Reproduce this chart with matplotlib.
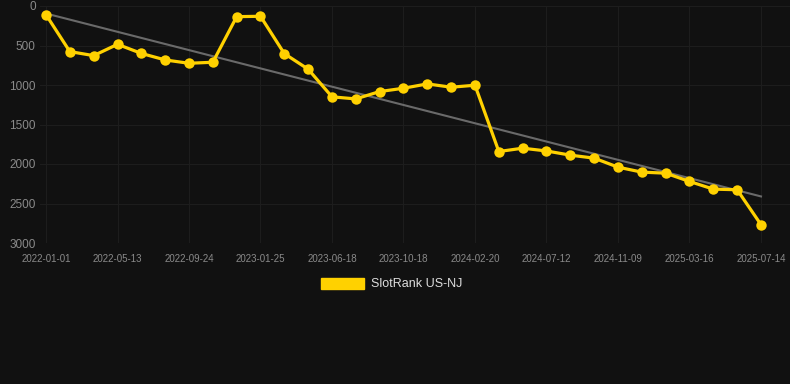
import numpy as np
import matplotlib
matplotlib.use('Agg')
import matplotlib.pyplot as plt
from matplotlib.patches import Patch

plt.rcParams['font.family'] = ['Liberation Sans', 'DejaVu Sans']

# Rank per snapshot (lower number = better)
rank = [110, 577, 628, 485, 600, 683, 725, 712, 135, 130,
        603, 800, 1150, 1176, 1083, 1041, 986, 1028, 1003, 1842,
        1800, 1835, 1888, 1926, 2040, 2103, 2116, 2221, 2318, 2326,
        2768]
tick_labels = ['2022-01-01', '2022-05-13', '2022-09-24', '2023-01-25',
               '2023-06-18', '2023-10-18', '2024-02-20', '2024-07-12',
               '2024-11-09', '2025-03-16', '2025-07-14']
series_name = 'SlotRank US-NJ'

bg = '#111111'
grid_c = '#1d1d1d'
text_c = '#8a8a8a'
yellow = '#FFD100'

x = np.arange(len(rank))
# linear trend over the series
k, b = np.polyfit(x, rank, 1)

fig = plt.figure(figsize=(7.9, 3.84), dpi=100, facecolor=bg)
W, H = 790, 384
left, right, top, bottom = 40, 790, 6, 243
ax = fig.add_axes([left / W, 1 - bottom / H, (right - left) / W, (bottom - top) / H])
ax.set_facecolor(bg)

ax.plot(x, k * x + b, color='#6a6a6a', lw=1.5, zorder=2)
ax.plot(x, rank, color=yellow, lw=2.3, marker='o', markersize=7.5,
        markeredgewidth=0, zorder=3, clip_on=False)

step = 23.83  # px per data point
ax.set_xlim(-(46 - left) / step, 30 + (right - 761) / step)
ax.set_ylim(3000, 0)
ax.set_yticks([0, 500, 1000, 1500, 2000, 2500, 3000])
ax.set_xticks(x[::3])
ax.set_xticklabels(tick_labels)

ax.grid(True, color=grid_c, lw=0.8)
ax.set_axisbelow(True)
for s in ax.spines.values():
    s.set_visible(False)
ax.tick_params(axis='y', length=0, pad=3, labelsize=8.5, labelcolor=text_c)
ax.tick_params(axis='x', length=0, pad=8, labelsize=7, labelcolor=text_c)

fig.legend(handles=[Patch(facecolor=yellow, edgecolor=yellow)], labels=[series_name],
           loc='center', bbox_to_anchor=(392 / W, 1 - 284 / H), frameon=False,
           handlelength=3.4, handleheight=1.0, handletextpad=0.6,
           fontsize=9, labelcolor='#dddddd')

fig.savefig('out.png', dpi=100, facecolor=bg)
